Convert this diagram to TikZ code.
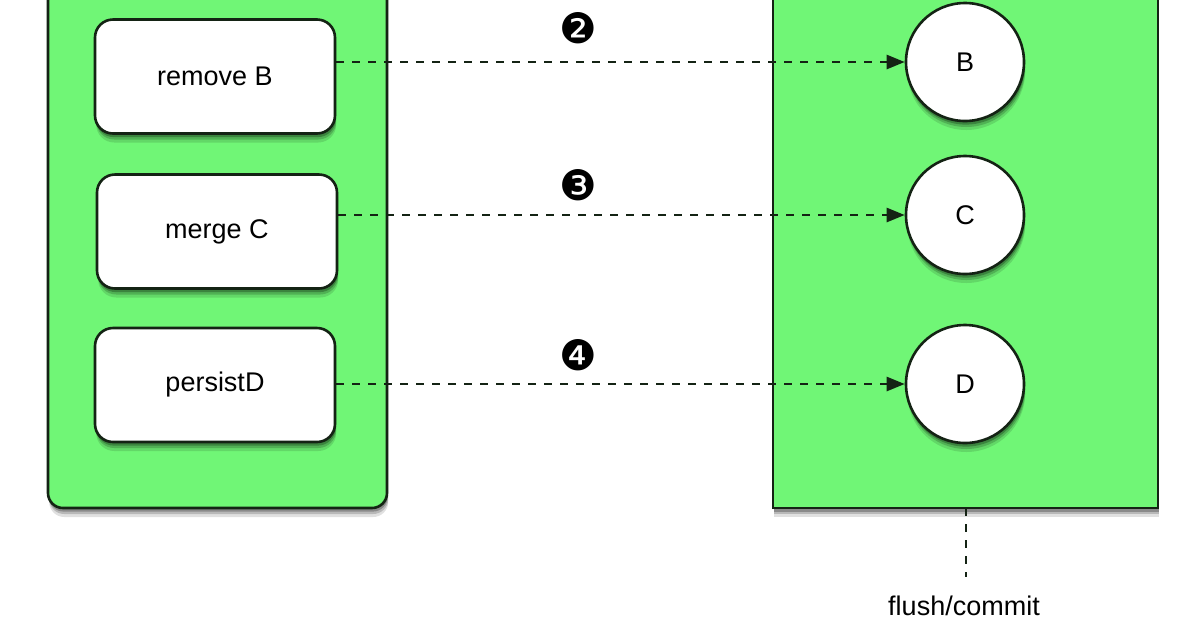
\documentclass[tikz,border=0pt]{standalone}
\usepackage{fontspec}
\setmainfont{Liberation Sans}
\newfontfamily\dejavu{DejaVu Sans}
\usetikzlibrary{shadows,arrows.meta}
\definecolor{panelgreen}{RGB}{112,246,118}
\definecolor{edgecol}{RGB}{20,35,20}
\tikzset{
  softshadow/.style={
    drop shadow={shadow xshift=0.6pt, shadow yshift=-4.5pt, opacity=0.12, fill=black},
    drop shadow={shadow xshift=0.6pt, shadow yshift=-3pt, opacity=0.18, fill=black},
    drop shadow={shadow xshift=0.4pt, shadow yshift=-1.8pt, opacity=0.25, fill=black}},
  panel/.style={draw=edgecol, line width=1.3pt, fill=panelgreen, softshadow, inner sep=0pt},
  opbox/.style={draw=edgecol, line width=1.3pt, fill=white, rounded corners=9pt, softshadow,
     minimum width=120pt, minimum height=57pt, font=\fontsize{13.5}{16}\selectfont, inner sep=0pt},
  entity/.style={circle, draw=edgecol, line width=1.3pt, fill=white, softshadow,
     minimum size=59pt, inner sep=0pt, font=\fontsize{13.5}{16}\selectfont},
  flowarrow/.style={line width=1.3pt, dash pattern=on 4pt off 4pt, -{Triangle[length=9pt,width=7pt]}, edgecol},
  stepnum/.style={font=\dejavu\fontsize{21}{24}\selectfont, inner sep=0pt},
  lbl/.style={font=\fontsize{13.5}{16}\selectfont, inner sep=0pt}
}
\begin{document}
\begin{tikzpicture}[x=0.5pt,y=-0.5pt]
\useasboundingbox (0,0) rectangle (1200,628);
\clip (0,0) rectangle (1200,628);
% panels
\node[panel, rounded corners=7.5pt, minimum width=169.5pt, minimum height=274pt] (L) at (217.5,234) {};
\node[panel, minimum width=192.5pt, minimum height=274pt] (R) at (965.5,234) {};
% operation boxes
\node[opbox] (rB) at (215,76.5) {remove B};
\node[opbox] (mC) at (217,231.5) {merge C};
\node[opbox] (pD) at (215,385) {persistD};
% entities
\node[entity] (B) at (965,62) {B};
\node[entity] (C) at (965,215) {C};
\node[entity] (D) at (965,384) {D};
% arrows
\draw[flowarrow] (B.west -| rB.east) -- (B.west);
\draw[flowarrow] (C.west -| mC.east) -- (C.west);
\draw[flowarrow] (D.west -| pD.east) -- (D.west);
% step numbers
\node[stepnum] (n2) at (578,28) {❷};
\node[stepnum] (n3) at (578,185) {❸};
\node[stepnum] (n4) at (578,355) {❹};
% flush
\node[lbl] (fc) at (964,606) {flush/commit};
\coordinate (rs) at (966,508);
\coordinate (fe) at (966,577);
\draw[line width=1.2pt, dash pattern=on 4pt off 4pt, edgecol] (rs) -- (fe);
\end{tikzpicture}
\end{document}
